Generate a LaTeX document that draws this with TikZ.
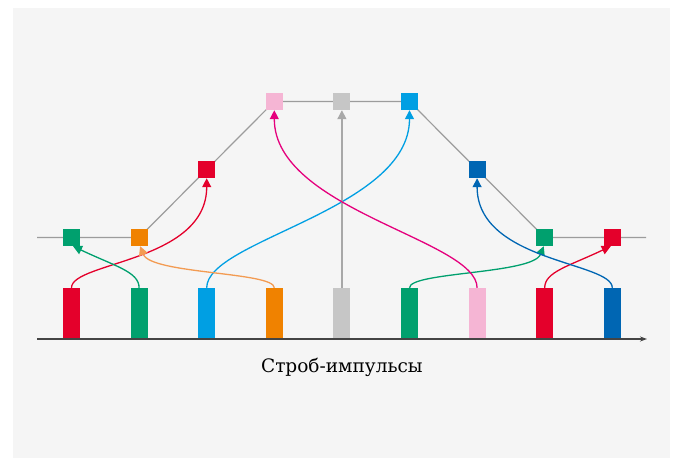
\documentclass[tikz,border=0pt]{standalone}
\usepackage{fontspec}
\setmainfont{DejaVu Serif}
\usetikzlibrary{arrows.meta}
\definecolor{bgc}{HTML}{F5F5F5}
\definecolor{cred}{HTML}{E4002B}
\definecolor{cgreen}{HTML}{00A06E}
\definecolor{cblue}{HTML}{009FE3}
\definecolor{corange}{HTML}{F08200}
\definecolor{corangea}{HTML}{F39B52}
\definecolor{cgray}{HTML}{C6C6C6}
\definecolor{cgraya}{HTML}{A8A8A8}
\definecolor{cpink}{HTML}{F5B5D4}
\definecolor{cpinka}{HTML}{E5007D}
\definecolor{cdblue}{HTML}{0066B3}
\definecolor{connc}{HTML}{9C9C9C}
\definecolor{axisc}{HTML}{444444}
\begin{document}
\begin{tikzpicture}[x=1pt,y=-1pt,
  bar/.style={rectangle,draw=none,inner sep=0pt,minimum width=17pt,minimum height=51pt},
  sq/.style={rectangle,draw=none,inner sep=0pt,minimum width=17pt,minimum height=17pt},
  conn/.style={draw=connc,line width=1.2pt},
  arr/.style={line width=1.3pt,-{Triangle[length=9pt,width=9pt]}},
  axisline/.style={draw=axisc,line width=1.4pt,-{Stealth[length=7pt,width=5pt]}},
  lbl/.style={font=\fontsize{18.5}{21}\selectfont,inner sep=0pt}]
\useasboundingbox (0,0) rectangle (673,458);
\fill[bgc] (13,8) rectangle (670,458);
% positions
\coordinate (p1) at (71.5,237.5);
\coordinate (p2) at (139.1,237.5);
\coordinate (p3) at (206.7,169.5);
\coordinate (p4) at (274.3,101.5);
\coordinate (p5) at (341.9,101.5);
\coordinate (p6) at (409.5,101.5);
\coordinate (p7) at (477.1,169.5);
\coordinate (p8) at (544.7,237.5);
\coordinate (p9) at (612.3,237.5);
\coordinate (lL) at (37,237.5);
\coordinate (lR) at (646,237.5);
\draw[conn] (lL) -- (p2) -- (p3) -- (p4) -- (p6) -- (p7) -- (p8) -- (lR);
% squares
\node[sq,fill=cgreen]  (q1) at (p1) {};
\node[sq,fill=corange] (q2) at (p2) {};
\node[sq,fill=cred]    (q3) at (p3) {};
\node[sq,fill=cpink]   (q4) at (p4) {};
\node[sq,fill=cgray]   (q5) at (p5) {};
\node[sq,fill=cblue]   (q6) at (p6) {};
\node[sq,fill=cdblue]  (q7) at (p7) {};
\node[sq,fill=cgreen]  (q8) at (p8) {};
\node[sq,fill=cred]    (q9) at (p9) {};
% bars
\node[bar,fill=cred]    (b1) at (71.5,313.5) {};
\node[bar,fill=cgreen]  (b2) at (139.1,313.5) {};
\node[bar,fill=cblue]   (b3) at (206.7,313.5) {};
\node[bar,fill=corange] (b4) at (274.3,313.5) {};
\node[bar,fill=cgray]   (b5) at (341.9,313.5) {};
\node[bar,fill=cgreen]  (b6) at (409.5,313.5) {};
\node[bar,fill=cpink]   (b7) at (477.1,313.5) {};
\node[bar,fill=cred]    (b8) at (544.7,313.5) {};
\node[bar,fill=cdblue]  (b9) at (612.3,313.5) {};
% axis
\coordinate (aL) at (37,339);
\coordinate (aR) at (647,339);
\draw[axisline] (aL) -- (aR);
% arrows
\draw[arr,cred]    (b1.north) .. controls +(0,-26) and +(0,84) .. (q3.south);
\draw[arr,cgreen]  (b2.north) .. controls +(0,-16) and +(42,20) .. ([xshift=1.5pt]q1.south);
\draw[arr,cblue]   (b3.north) .. controls +(0,-48) and +(0,100) .. (q6.south);
\draw[arr,corangea](b4.north) .. controls +(0,-16) and +(11,28) .. ([xshift=1pt]q2.south);
\draw[arr,cgraya]  (b5.north) -- (q5.south);
\draw[arr,cgreen]  (b6.north) .. controls +(0,-16) and +(-11,28) .. ([xshift=-1pt]q8.south);
\draw[arr,cpinka]  (b7.north) .. controls +(0,-48) and +(0,100) .. (q4.south);
\draw[arr,cred]    (b8.north) .. controls +(0,-16) and +(-42,20) .. ([xshift=-1.5pt]q9.south);
\draw[arr,cdblue]  (b9.north) .. controls +(0,-26) and +(0,84) .. (q7.south);
\node[lbl] (t) at (341.9,367) {Строб-импульсы};
\end{tikzpicture}
\end{document}
